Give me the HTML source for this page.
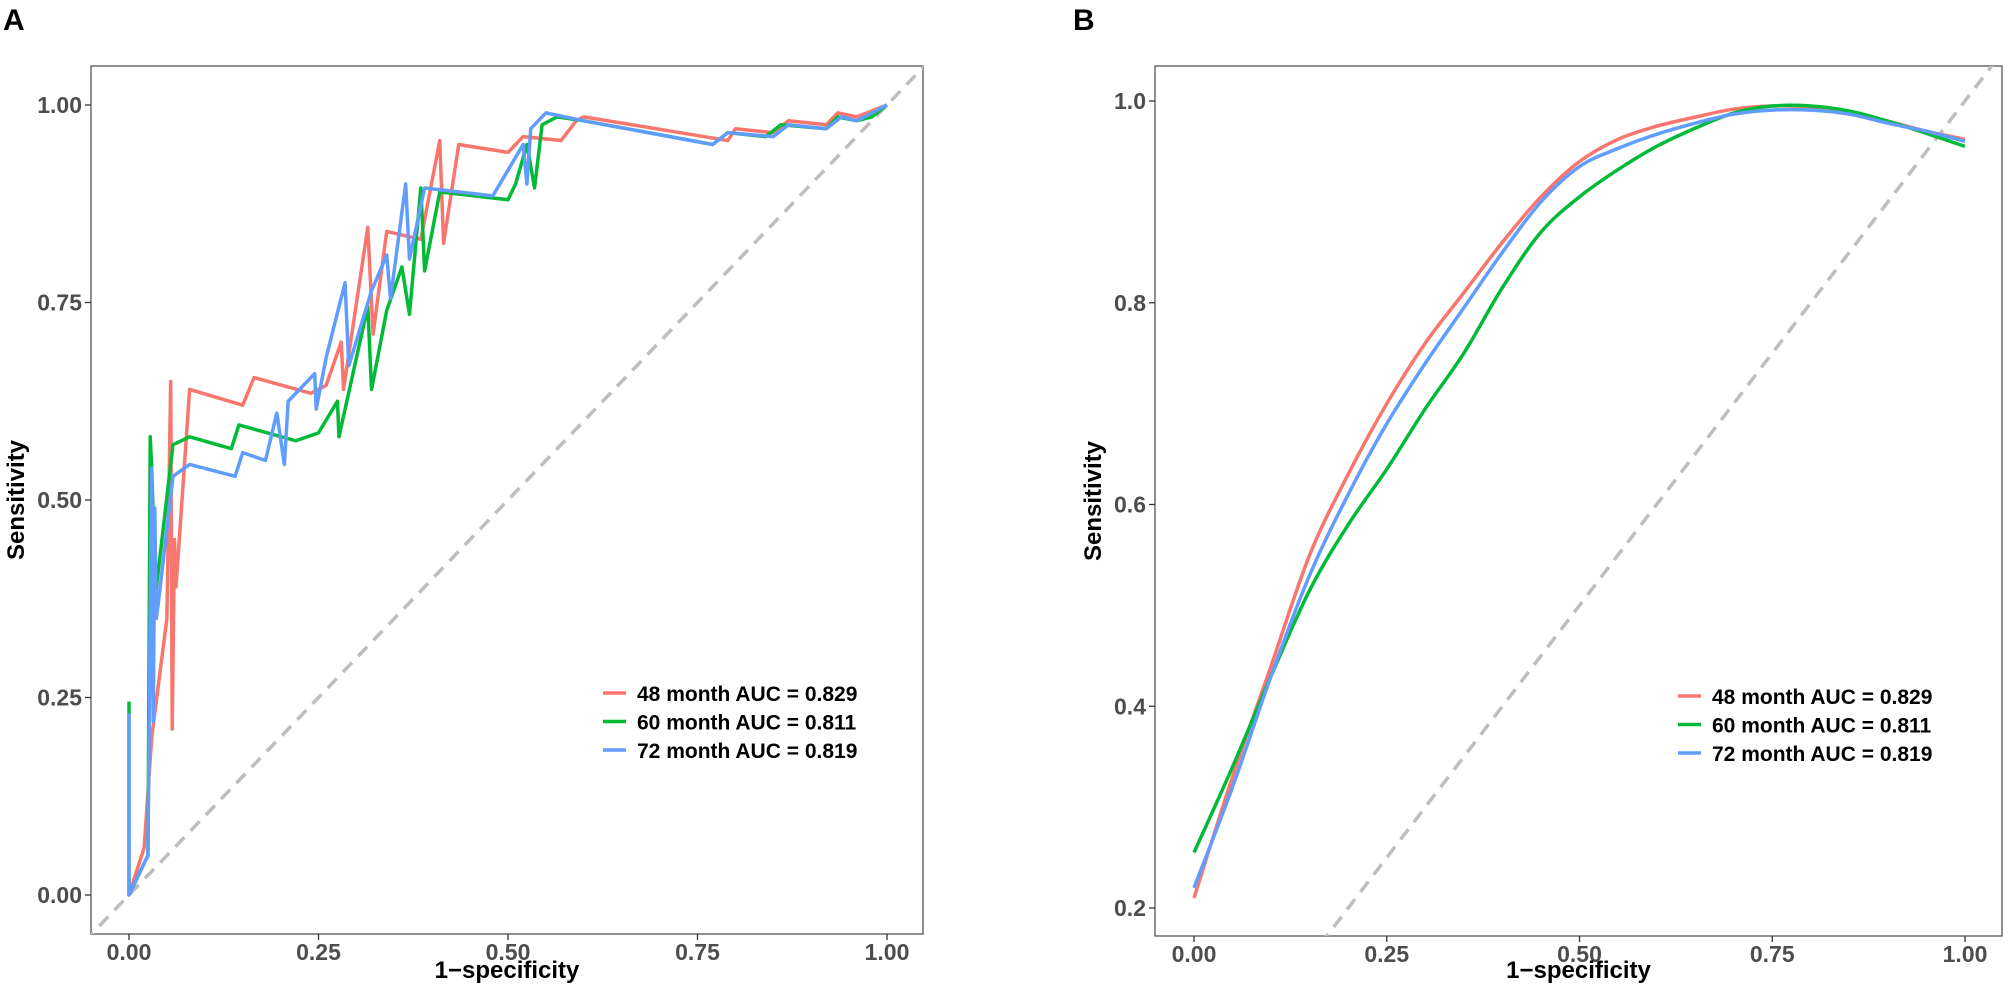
<!DOCTYPE html>
<html><head><meta charset="utf-8"><style>
html,body{margin:0;padding:0;background:#fff;overflow:hidden;width:2008px;height:992px;}
svg{display:block;font-family:"Liberation Sans",Arial,sans-serif;}
</style></head><body>
<svg id="chart" width="2008" height="992" viewBox="0 0 2008 992">
<defs>
<clipPath id="clipA"><rect x="91" y="66" width="832" height="868"/></clipPath>
<clipPath id="clipB"><rect x="1155" y="66" width="847" height="870"/></clipPath>
</defs>
<g id="panelA"></g>
<g id="panelB"></g>
</svg>
<script>
const colors = ["#F8766D", "#00BA38", "#619CFF"];
const seriesLabels = ["48 month AUC = 0.829", "60 month AUC = 0.811", "72 month AUC = 0.819"];
const ticksA_x = [0, 0.25, 0.5, 0.75, 1];
const tickLabelsA_x = ["0.00", "0.25", "0.50", "0.75", "1.00"];
const ticksA_y = [0, 0.25, 0.5, 0.75, 1];
const tickLabelsA_y = ["0.00", "0.25", "0.50", "0.75", "1.00"];
const ticksB_x = [0, 0.25, 0.5, 0.75, 1];
const tickLabelsB_x = ["0.00", "0.25", "0.50", "0.75", "1.00"];
const ticksB_y = [0.2, 0.4, 0.6, 0.8, 1.0];
const tickLabelsB_y = ["0.2", "0.4", "0.6", "0.8", "1.0"];

const a48x = [0,0.02,0.03,0.05,0.055,0.057,0.06,0.062,0.08,0.15,0.165,0.24,0.26,0.28,0.283,0.315,0.322,0.34,0.385,0.41,0.415,0.435,0.5,0.52,0.57,0.59,0.6,0.79,0.8,0.85,0.87,0.92,0.935,0.96,1];
const a48y = [0,0.06,0.2,0.35,0.65,0.21,0.45,0.39,0.64,0.62,0.655,0.635,0.645,0.7,0.64,0.845,0.71,0.84,0.83,0.955,0.825,0.95,0.94,0.96,0.955,0.98,0.985,0.955,0.97,0.965,0.98,0.975,0.99,0.985,1];
const a60x = [0,0,0.025,0.028,0.03,0.035,0.058,0.08,0.135,0.145,0.22,0.25,0.275,0.277,0.315,0.32,0.34,0.36,0.37,0.385,0.39,0.41,0.5,0.51,0.525,0.535,0.545,0.565,0.6,0.77,0.79,0.84,0.86,0.92,0.935,0.96,0.98,1];
const a60y = [0.245,0,0.05,0.58,0.54,0.38,0.57,0.58,0.565,0.595,0.575,0.585,0.625,0.58,0.745,0.64,0.74,0.795,0.735,0.895,0.79,0.89,0.88,0.9,0.95,0.895,0.975,0.985,0.98,0.95,0.965,0.96,0.975,0.97,0.985,0.98,0.985,1];
const a72x = [0,0,0.025,0.03,0.032,0.034,0.036,0.04,0.058,0.08,0.14,0.15,0.18,0.195,0.205,0.21,0.245,0.247,0.26,0.285,0.29,0.32,0.34,0.345,0.365,0.37,0.39,0.48,0.52,0.525,0.53,0.55,0.6,0.77,0.79,0.85,0.87,0.92,0.94,0.96,1];
const a72y = [0.23,0,0.05,0.54,0.22,0.49,0.35,0.38,0.53,0.545,0.53,0.56,0.55,0.61,0.545,0.625,0.66,0.615,0.68,0.775,0.67,0.765,0.81,0.755,0.9,0.805,0.895,0.885,0.95,0.9,0.97,0.99,0.98,0.95,0.965,0.96,0.975,0.97,0.985,0.98,1];

const bx = [0,0.05,0.1,0.15,0.2,0.25,0.3,0.35,0.4,0.45,0.5,0.55,0.6,0.65,0.7,0.75,0.8,0.85,0.9,0.95,1];
const b48 = [0.21,0.33,0.44,0.55,0.63,0.70,0.76,0.81,0.86,0.905,0.94,0.962,0.975,0.984,0.992,0.995,0.994,0.988,0.98,0.97,0.962];
const b60 = [0.255,0.34,0.43,0.515,0.58,0.635,0.695,0.75,0.815,0.87,0.905,0.932,0.955,0.973,0.988,0.995,0.995,0.99,0.98,0.968,0.955];
const b72 = [0.22,0.32,0.43,0.53,0.61,0.68,0.74,0.795,0.85,0.9,0.935,0.953,0.967,0.978,0.987,0.991,0.991,0.987,0.978,0.97,0.96];

const NS = "http://www.w3.org/2000/svg";
function mk(parent, tag, attrs, text) {
  const e = document.createElementNS(NS, tag);
  for (const k in attrs) e.setAttribute(k, attrs[k]);
  if (text !== undefined) e.textContent = text;
  parent.appendChild(e);
  return e;
}
function lin(d0, d1, r0, r1) { return v => r0 + (v - d0) / (d1 - d0) * (r1 - r0); }

function smoothPath(pts) {
  let d = "M" + pts[0][0] + "," + pts[0][1];
  for (let i = 0; i < pts.length - 1; i++) {
    const p0 = pts[i - 1] || pts[i], p1 = pts[i], p2 = pts[i + 1], p3 = pts[i + 2] || p2;
    const c1x = p1[0] + (p2[0] - p0[0]) / 6, c1y = p1[1] + (p2[1] - p0[1]) / 6;
    const c2x = p2[0] - (p3[0] - p1[0]) / 6, c2y = p2[1] - (p3[1] - p1[1]) / 6;
    d += " C" + c1x + "," + c1y + " " + c2x + "," + c2y + " " + p2[0] + "," + p2[1];
  }
  return d;
}

function panel(g, cfg) {
  const X = lin(0, 1, cfg.x0, cfg.x1), Y = lin(cfg.yd0, cfg.yd1, cfg.y0, cfg.y1);
  const box = mk(g, "rect", {x: cfg.bx, y: cfg.by, width: cfg.bw, height: cfg.bh, fill: "none", stroke: "#555", "stroke-width": 1.3});
  
  
  const lab = mk(g, "text", {x: cfg.labX, y: 30, "font-size": 30, "font-weight": "bold", fill: "#000"}, cfg.label);
  
  
  cfg.tx.forEach((t, i) => {
    const tk = mk(g, "line", {x1: X(t), x2: X(t), y1: cfg.by + cfg.bh, y2: cfg.by + cfg.bh + 6, stroke: "#333", "stroke-width": 1.3});
    
    
    const tl = mk(g, "text", {x: X(t), y: cfg.by + cfg.bh + 26, "font-size": 23, "font-weight": "bold", fill: "#4d4d4d", "text-anchor": "middle"}, cfg.txl[i]);
    
    
  });
  cfg.ty.forEach((t, i) => {
    const tk = mk(g, "line", {x1: cfg.bx - 6, x2: cfg.bx, y1: Y(t), y2: Y(t), stroke: "#333", "stroke-width": 1.3});
    
    
    const tl = mk(g, "text", {x: cfg.bx - 9, y: Y(t) + 8, "font-size": 23, "font-weight": "bold", fill: "#4d4d4d", "text-anchor": "end"}, cfg.tyl[i]);
    
    
  });
  const xt = mk(g, "text", {x: cfg.bx + cfg.bw / 2, y: 978, "font-size": 24, "font-weight": "bold", fill: "#000", "text-anchor": "middle"}, "1\u2212specificity");
  
  
  const yt = mk(g, "text", {x: 0, y: 0, "font-size": 24, "font-weight": "bold", fill: "#000", "text-anchor": "middle", transform: "translate(" + cfg.ytX + "," + (cfg.by + cfg.bh / 2) + ") rotate(-90)"}, "Sensitivity");
  
  
  const plot = mk(g, "g", {"clip-path": "url(#" + cfg.clip + ")"});
  
  
  const diag = mk(plot, "line", {x1: X(-0.2), y1: Y(-0.2), x2: X(1.2), y2: Y(1.2), stroke: "#bebebe", "stroke-width": 3.5, "stroke-dasharray": "13,9"});
  
  
  cfg.series.forEach((s, i) => {
    const pts = s.x.map((v, j) => [X(v), Y(s.y[j])]);
    let p;
    if (cfg.smooth) p = mk(plot, "path", {d: smoothPath(pts), fill: "none", stroke: colors[i], "stroke-width": 3.5, "stroke-linejoin": "round"});
    else p = mk(plot, "polyline", {points: pts.map(q => q.join(",")).join(" "), fill: "none", stroke: colors[i], "stroke-width": 3.5, "stroke-linejoin": "round"});
    
    
  });
  seriesLabels.forEach((t, i) => {
    const yy = cfg.legY + i * 28.5;
    const ll = mk(g, "line", {x1: cfg.legX, x2: cfg.legX + 23, y1: yy, y2: yy, stroke: colors[i], "stroke-width": 3.5});
    
    
    const lt = mk(g, "text", {x: cfg.legX + 34, y: yy + 8, "font-size": 21, "font-weight": "bold", fill: "#000"}, t);
    
    
  });
}

panel(document.getElementById("panelA"), {
  label: "A", labX: 3, bx: 91, by: 66, bw: 832, bh: 868, x0: 129, x1: 887, yd0: 0, yd1: 1, y0: 895, y1: 105,
  tx: ticksA_x, txl: tickLabelsA_x, ty: ticksA_y, tyl: tickLabelsA_y, ytX: 24, clip: "clipA", smooth: false,
  series: [{x: a48x, y: a48y}, {x: a60x, y: a60y}, {x: a72x, y: a72y}], legX: 603, legY: 693
});
panel(document.getElementById("panelB"), {
  label: "B", labX: 1073, bx: 1155, by: 66, bw: 847, bh: 870, x0: 1194, x1: 1965, yd0: 0.2, yd1: 1.0, y0: 908, y1: 101,
  tx: ticksB_x, txl: tickLabelsB_x, ty: ticksB_y, tyl: tickLabelsB_y, ytX: 1101, clip: "clipB", smooth: true,
  series: [{x: bx, y: b48}, {x: bx, y: b60}, {x: bx, y: b72}], legX: 1678, legY: 696
});
</script>
</body></html>
